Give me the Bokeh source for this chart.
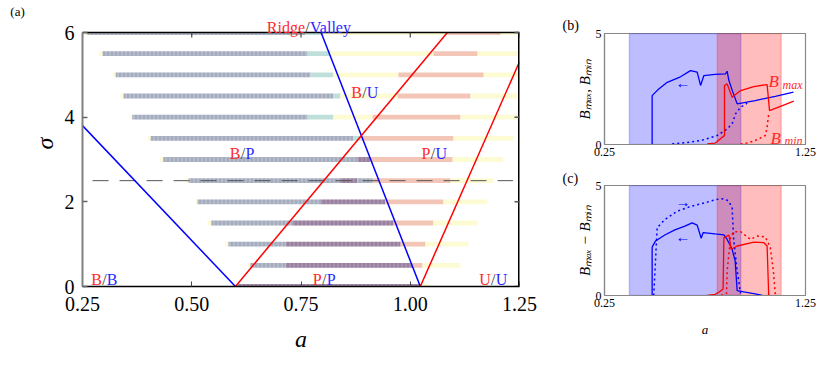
from bokeh.plotting import figure
from bokeh.layouts import row, column
from bokeh.models import Range1d, Label, FixedTicker, ColumnDataSource, Title
from bokeh.embed import file_html
from bokeh.resources import INLINE

FONT = "Liberation Serif"

# ---------------- panel (a) data ----------------
x_ticks = [0.25, 0.50, 0.75, 1.00, 1.25]
x_tick_labels = ["0.25", "0.50", "0.75", "1.00", "1.25"]
y_ticks = [0, 2, 4, 6]
y_tick_labels = ["0", "2", "4", "6"]

sigma_rows = [6.0, 5.5, 5.0, 4.5, 4.0, 3.5, 3.0, 2.5, 2.0, 1.5, 1.0, 0.5, 0.0]
row_edges = [
    [0.254, 0.261, 0.760, 0.801, 1.085, 1.207, 1.250],
    [0.287, 0.296, 0.765, 0.817, 1.053, 1.154, 1.250],
    [0.319, 0.326, 0.772, 0.824, 0.973, 1.168, 1.247],
    [0.337, 0.344, 0.824, 0.840, 0.971, 1.138, 1.245],
    [0.360, 0.364, 0.765, 0.824, 0.914, 1.115, 1.245],
    [0.399, 0.406, 0.870, 0.886, 1.099, 1.236],
    [0.428, 0.435, 0.879, 0.909, 1.097, 1.213],
    [0.486, 0.493, 0.840, 0.879, 0.914, 1.092, 1.190],
    [0.509, 0.513, 0.795, 0.943, 1.076, 1.177],
    [0.536, 0.545, 0.731, 0.962, 1.053, 1.154],
    [0.577, 0.584, 0.715, 0.978, 1.035, 1.133],
    [0.628, 0.634, 0.715, 1.005, 1.028, 1.115],
    [0.593, 0.605, 1.023, 1.046],
]
row_kinds = [
    ["Y", "G", "T", "Y", "S", "Y"],
    ["Y", "G", "T", "Y", "S", "Y"],
    ["Y", "G", "T", "Y", "S", "Y"],
    ["Y", "G", "T", "Y", "S", "Y"],
    ["Y", "G", "T", "Y", "S", "Y"],
    ["Y", "G", "T", "S", "Y"],
    ["Y", "G", "P", "S", "Y"],
    ["Y", "G", "P", "G", "S", "Y"],
    ["Y", "G", "P", "S", "Y"],
    ["Y", "G", "P", "S", "Y"],
    ["Y", "G", "P", "S", "Y"],
    ["Y", "G", "P", "S", "Y"],
    ["Y", "P", "Y"],
]

blue_left_a = [0.25, 0.600]
blue_left_s = [3.80, 0.0]
blue_right_a = [0.796, 1.023]
blue_right_s = [6.0, 0.0]
red_left_a = [0.600, 1.085]
red_left_s = [0.0, 6.0]
red_right_a = [1.023, 1.25]
red_right_s = [0.0, 5.31]
dash_a = [0.273, 1.235]
dash_s = [2.5, 2.5]

regime_labels = [  # (first, second, a, sigma)
    ("B", "B", 0.300, 0.16),
    ("P", "P", 0.803, 0.16),
    ("U", "U", 1.190, 0.16),
    ("B", "P", 0.617, 3.14),
    ("B", "U", 0.895, 4.58),
    ("P", "U", 1.052, 3.14),
]

# ---------------- panels (b), (c) data ----------------
blue_band = [0.374, 0.928]
red_band = [0.811, 1.129]

b_blue_max_a = [0.487, 0.487, 0.504, 0.520, 0.562, 0.628, 0.678, 0.711, 0.728, 0.744, 0.800, 0.852, 0.860, 0.869, 0.885, 0.910, 1.000, 1.100, 1.190]
b_blue_max_v = [0.0, 2.20, 2.36, 2.50, 2.80, 3.05, 3.33, 3.26, 2.66, 3.10, 3.16, 3.18, 3.30, 2.88, 2.45, 1.83, 1.98, 2.17, 2.36]
b_blue_min_a = [0.587, 0.650, 0.730, 0.810, 0.860, 0.885, 0.902, 0.927, 0.960]
b_blue_min_v = [0.03, 0.08, 0.18, 0.40, 0.70, 0.93, 1.38, 1.68, 1.86]
b_red_max_a = [0.761, 0.800, 0.836, 0.847, 0.847, 0.860, 0.885, 0.927, 0.993, 1.059, 1.071, 1.192]
b_red_max_v = [0.03, 0.06, 0.33, 0.40, 2.66, 2.73, 2.13, 2.43, 2.61, 2.70, 1.53, 1.95]
b_red_min_a = [0.927, 0.960, 1.000, 1.050, 1.059, 1.067]
b_red_min_v = [0.02, 0.07, 0.18, 0.40, 0.78, 1.38]

c_blue_solid_a = [0.487, 0.487, 0.504, 0.550, 0.600, 0.650, 0.686, 0.711, 0.731, 0.741, 0.800, 0.844, 0.857, 0.885, 0.900, 0.910, 0.950, 1.000, 1.035]
c_blue_solid_v = [0.0, 2.20, 2.48, 2.75, 2.98, 3.15, 3.30, 3.20, 2.60, 2.86, 2.80, 2.76, 2.60, 2.10, 1.58, 0.22, 0.15, 0.07, 0.0]
c_blue_dot_a = [0.495, 0.505, 0.512, 0.550, 0.611, 0.680, 0.744, 0.800, 0.827, 0.850, 0.869, 0.885, 0.893, 0.910, 0.927]
c_blue_dot_v = [0.0, 1.80, 3.08, 3.45, 3.83, 4.05, 4.20, 4.35, 4.40, 4.38, 4.28, 3.98, 2.50, 1.13, 0.10]
c_red_solid_a = [0.761, 0.800, 0.819, 0.840, 0.844, 0.869, 0.880, 0.910, 0.993, 1.043, 1.059, 1.067, 1.075]
c_red_solid_v = [0.0, 0.05, 0.15, 0.30, 2.63, 2.75, 2.10, 2.25, 2.43, 2.40, 2.25, 0.0, 0.0]
c_red_dot_a = [0.830, 0.857, 0.860, 0.877, 0.893, 0.927, 0.976, 1.010, 1.050, 1.075, 1.090, 1.100]
c_red_dot_v = [0.0, 0.10, 1.10, 2.63, 2.90, 2.90, 2.55, 2.70, 2.66, 2.18, 1.13, 0.0]

right_x_ticks = [0.25, 1.25]
right_x_tick_labels = ["0.25", "1.25"]
right_y_ticks = [0, 5]
right_y_tick_labels = ["0", "5"]

# ---------------- styles / geometry ----------------
KIND_FILL = {"Y": "#fdfbd4", "G": "#b3bbcb", "T": "#bfe0da", "S": "#f3c5b6", "P": "#a690ab"}
KIND_HATCH = {"Y": " ", "G": "|", "T": " ", "S": " ", "P": "|"}
KIND_HCOL = {"Y": "#ffffff", "G": "#7b849a", "T": "#ffffff", "S": "#ffffff", "P": "#765a82"}
RED = "#ff0000"
BLUE = "#0000ff"
TRED = "#ff2a2a"
TBLUE = "#2a2aff"
SLASH = "#404040"

W, H = 830, 377
STRIP_W = 25                        # narrow strip holding the "(a)" tag
LEFT_W = 555
FRAME_L, FRAME_R = 82, 519          # panel (a) axes box, canvas pixels
FRAME_T, FRAME_B = 32, 286
A0, A1 = 0.25, 1.25
S0, S1 = 0.0, 6.0
PX_A = (FRAME_R - FRAME_L) / (A1 - A0)
PX_S = (FRAME_B - FRAME_T) / (S1 - S0)
S_TOP = S1 + FRAME_T / PX_S         # plot frame reaches the top of the canvas
TICK_PX = 5
ROW_HALF = 0.058

SM_L, SM_R = 604, 805               # panels (b), (c) frame, canvas pixels
B_T, B_B = 33, 144
C_T, C_B = 184, 295
V0, V1 = 0.0, 5.0
RIGHT_W = W - LEFT_W
SPLIT = 168


def lab(fig, x, y, text, color, size, align="center", xo=0, style="normal", base="alphabetic", angle=0):
    fig.add_layout(Label(x=x, y=y, text=text, text_color=color, text_font=FONT,
                         text_font_size=size, text_align=align, x_offset=xo,
                         text_font_style=style, text_baseline=base, angle=angle))


# ---------------- narrow strip with the panel tag ----------------
strip = figure(width=STRIP_W, height=H, title=None,
               x_range=Range1d(A0 - FRAME_L / PX_A, A0 - (FRAME_L - STRIP_W) / PX_A),
               y_range=Range1d(S0 - (H - FRAME_B) / PX_S, S_TOP),
               output_backend="svg", toolbar_location=None,
               x_axis_location=None, y_axis_location=None, min_border=0,
               min_border_left=0, min_border_right=0, min_border_top=0, min_border_bottom=0)
strip.grid.visible = False
strip.outline_line_color = None
lab(strip, 0.1013, 6.42, "(a)", "black", "13px", "center", base="middle")

# ---------------- panel (a) ----------------
p = figure(width=LEFT_W - STRIP_W, height=H, x_range=Range1d(A0, A1), y_range=Range1d(S0, S_TOP),
           output_backend="svg", toolbar_location=None, title=None,
           min_border_left=FRAME_L - STRIP_W, min_border_right=LEFT_W - FRAME_R,
           min_border_top=0, min_border_bottom=H - FRAME_B)
p.grid.visible = False
p.outline_line_color = None

L, R, B, T, FC, HP, HC = [], [], [], [], [], [], []
for s, edges, kinds in zip(sigma_rows, row_edges, row_kinds):
    for i, k in enumerate(kinds):
        L.append(edges[i]); R.append(edges[i + 1])
        B.append(max(s - ROW_HALF, S0)); T.append(min(s + ROW_HALF, S1))
        FC.append(KIND_FILL[k]); HP.append(KIND_HATCH[k]); HC.append(KIND_HCOL[k])
src = ColumnDataSource(dict(left=L, right=R, bottom=B, top=T, fc=FC, hp=HP, hc=HC))
p.quad(left="left", right="right", bottom="bottom", top="top", source=src,
       fill_color="fc", line_color=None, hatch_pattern="hp", hatch_color="hc",
       hatch_alpha=0.55, hatch_scale=4, hatch_weight=1)

p.line(dash_a, dash_s, line_color="#555555", line_width=1, line_dash="16 11")
p.line(blue_left_a, blue_left_s, line_color=BLUE, line_width=1.5)
p.line(blue_right_a, blue_right_s, line_color=BLUE, line_width=1.5)
p.line(red_left_a, red_left_s, line_color=RED, line_width=1.5)
p.line(red_right_a, red_right_s, line_color=RED, line_width=1.5)

# top and right edges of the axes box, with mirrored inward ticks
p.line([A0, A1], [S1, S1], line_color="black", line_width=1.5)
p.line([A1, A1], [S0, S1], line_color="black", line_width=3)
p.segment(x0=x_ticks, y0=[S1] * len(x_ticks), x1=x_ticks, y1=[S1 - TICK_PX / PX_S] * len(x_ticks),
          line_color="#444444", line_width=1.2)
p.segment(x0=[A1] * len(y_ticks), y0=y_ticks, x1=[A1 - TICK_PX / PX_A] * len(y_ticks), y1=y_ticks,
          line_color="#555555", line_width=1.5)

for ax, ticks, labs in ((p.xaxis[0], x_ticks, x_tick_labels), (p.yaxis[0], y_ticks, y_tick_labels)):
    ax.ticker = FixedTicker(ticks=ticks)
    ax.major_label_overrides = {t: l for t, l in zip(ticks, labs)}
    ax.major_label_text_font = FONT
    ax.major_label_text_font_size = "20px"
    ax.major_label_text_color = "black"
    ax.major_tick_in = TICK_PX
    ax.major_tick_out = 0
    ax.minor_tick_line_color = None
    ax.axis_label_text_font = FONT
    ax.axis_label_text_font_style = "italic"
    ax.axis_label_text_font_size = "24px"
    ax.axis_label_text_color = "black"
    ax.major_label_standoff = 10
p.xaxis.axis_label = "a"
p.xaxis.axis_line_color = "black"
p.xaxis.axis_line_width = 1.5
p.xaxis.major_tick_line_color = "#444444"
p.xaxis.axis_label_standoff = 12
p.yaxis.bounds = (S0, S1)
p.yaxis.axis_label = "σ"
p.yaxis.axis_line_color = "#808080"
p.yaxis.axis_line_width = 2
p.yaxis.major_tick_line_color = "#666666"
p.yaxis.major_tick_line_width = 1.5
p.yaxis.major_label_standoff = 8
p.yaxis.axis_label_standoff = 4

for a1, a2, xa, ys in regime_labels:
    lab(p, xa, ys, a1, TRED, "16px", "right", -2.5)
    lab(p, xa, ys, "/", SLASH, "16px", "center")
    lab(p, xa, ys, a2, TBLUE, "16px", "left", 2.5)

lab(p, 0.765, 6.125, "Ridge", TRED, "16px", "right", -2.5)
lab(p, 0.765, 6.125, "/", SLASH, "16px", "center")
lab(p, 0.765, 6.125, "Valley", TBLUE, "16px", "left", 2.5)


# ---------------- panels (b), (c) ----------------
def small_panel(h, top, bottom, tag, standoff):
    f = figure(width=RIGHT_W, height=h, x_range=Range1d(A0, A1), y_range=Range1d(V0, V1),
               output_backend="svg", toolbar_location=None,
               min_border_left=SM_L - LEFT_W, min_border_right=W - SM_R,
               min_border_top=top, min_border_bottom=bottom)
    f.grid.visible = False
    f.outline_line_color = "#888888"
    f.outline_line_width = 1.2
    f.title = Title(text=tag, align="left", offset=-42, text_font=FONT, text_font_size="14px",
                    text_font_style="normal", text_color="black", standoff=standoff)
    for ax, ticks, labs in ((f.xaxis[0], right_x_ticks, right_x_tick_labels),
                            (f.yaxis[0], right_y_ticks, right_y_tick_labels)):
        ax.ticker = FixedTicker(ticks=ticks)
        ax.major_label_overrides = {t: l for t, l in zip(ticks, labs)}
        ax.major_label_text_font = FONT
        ax.major_label_text_font_size = "12px"
        ax.major_label_text_color = "black"
        ax.major_tick_in = 0
        ax.major_tick_out = 0
        ax.minor_tick_line_color = None
        ax.axis_line_color = "#888888"
        ax.axis_line_width = 1.2
        ax.major_label_standoff = 3
        ax.axis_label_text_font = FONT
        ax.axis_label_text_font_style = "italic"
        ax.axis_label_text_font_size = "15px"
        ax.axis_label_text_color = "black"
    f.quad(left=[blue_band[0]], right=[blue_band[1]], bottom=[V0], top=[V1],
           fill_color=BLUE, fill_alpha=0.26, line_color=BLUE, line_alpha=0.2, line_width=1.5)
    f.quad(left=[red_band[0]], right=[red_band[1]], bottom=[V0], top=[V1],
           fill_color=RED, fill_alpha=0.26, line_color=RED, line_alpha=0.2, line_width=1.5)
    return f


pb = small_panel(SPLIT, B_T, SPLIT - B_B, "(b)", 2)
pb.line(b_blue_max_a, b_blue_max_v, line_color=BLUE, line_width=1.3)
pb.line(b_blue_min_a, b_blue_min_v, line_color=BLUE, line_width=1.5, line_dash="2 3")
pb.line(b_red_max_a, b_red_max_v, line_color=RED, line_width=1.3)
pb.line(b_red_min_a, b_red_min_v, line_color=RED, line_width=1.5, line_dash="2 3")
pb.yaxis.axis_label = "Bₘₐₓ, Bₘᵢₙ"
pb.yaxis.axis_label_standoff = 0
lab(pb, 1.066, 2.82, "B", TRED, "17px", "left", style="italic")
lab(pb, 1.066, 2.70, "max", TRED, "12px", "left", xo=14, style="italic")
lab(pb, 1.076, 0.27, "B", TRED, "17px", "left", style="italic")
lab(pb, 1.076, 0.17, "min", TRED, "12px", "left", xo=14, style="italic")
lab(pb, 0.64, 2.75, "←", BLUE, "15px", "center", base="middle")

pc = small_panel(H - SPLIT, C_T - SPLIT, H - C_B, "(c)", 0)
pc.line(c_blue_solid_a, c_blue_solid_v, line_color=BLUE, line_width=1.3)
pc.line(c_blue_dot_a, c_blue_dot_v, line_color=BLUE, line_width=1.5, line_dash="2 3")
pc.line(c_red_solid_a, c_red_solid_v, line_color=RED, line_width=1.3)
pc.line(c_red_dot_a, c_red_dot_v, line_color=RED, line_width=1.5, line_dash="2 3")
pc.yaxis.axis_label = "Bₘₐₓ − Bₘᵢₙ"
pc.yaxis.axis_label_standoff = 0
pc.xaxis.axis_label = "a"
pc.xaxis.axis_label_text_font_size = "13px"
pc.xaxis.axis_label_standoff = 12
lab(pc, 0.64, 4.25, "→", BLUE, "15px", "center", base="middle")
lab(pc, 0.64, 2.66, "←", BLUE, "15px", "center", base="middle")

layout = row(strip, p, column(pb, pc))
open("out.html", "w").write(file_html(layout, INLINE))
